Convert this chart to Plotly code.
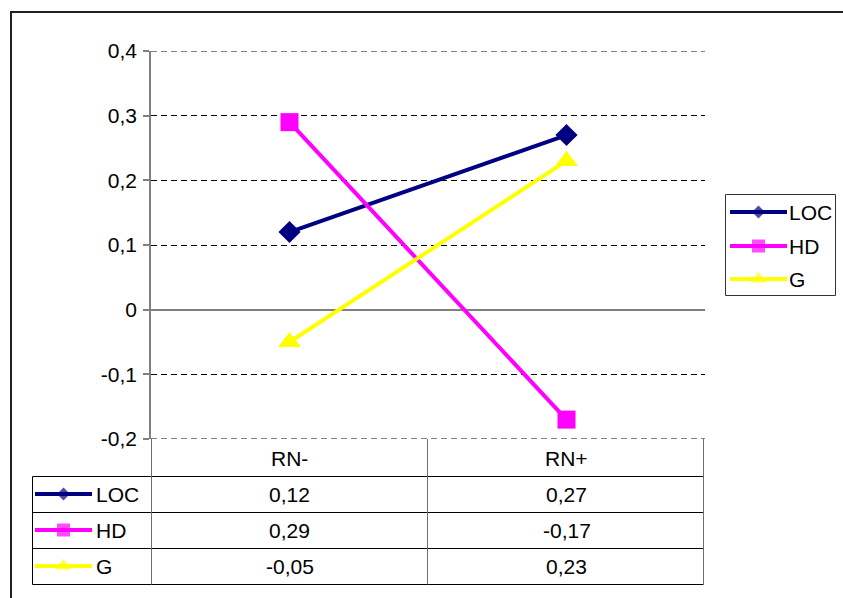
import plotly.graph_objects as go

# --- data -------------------------------------------------------------
categories = ["RN-", "RN+"]
series_names = ["LOC", "HD", "G"]
loc_values = [0.12, 0.27]
hd_values = [0.29, -0.17]
g_values = [-0.05, 0.23]
y_tick_values = [-0.2, -0.1, 0.0, 0.1, 0.2, 0.3, 0.4]
y_tick_labels = ["-0,2", "-0,1", "0", "0,1", "0,2", "0,3", "0,4"]

# --- styles -----------------------------------------------------------
W, H = 843, 598
FONT = "Liberation Sans, Arial, sans-serif"
FS = 21
styles = {
    "LOC": dict(color="#000080", symbol="diamond", size=17, key_size=10),
    "HD": dict(color="#FF00FF", symbol="square", size=18, key_size=13),
    "G": dict(color="#FFFF00", symbol="triangle-up", size=20, key_size=14),
}
values = {"LOC": loc_values, "HD": hd_values, "G": g_values}

# plot area in pixels
PX0, PX1 = 151, 705
PY_TOP, PY_BOT = 51, 439

fig = go.Figure()

# main series
for name in series_names:
    st = styles[name]
    fig.add_trace(go.Scatter(
        x=categories, y=values[name], mode="lines+markers", name=name,
        line=dict(color=st["color"], width=4),
        marker=dict(symbol=st["symbol"], size=st["size"], color=st["color"],
                    line=dict(width=0)),
        xaxis="x", yaxis="y", showlegend=False, hoverinfo="x+y+name",
        cliponaxis=False,
    ))

# pixel overlay used for the data table and the legend
table_left, key_col, col_mid, table_right = 32.5, 151.5, 427.5, 703.5
row_lines = [476.5, 512.5, 548.5, 584.5]
header_y = 458
row_centers = [494, 530, 566]

shapes = []
# outer frame
shapes.append(dict(type="rect", xref="x2", yref="y2", x0=11, y0=12, x1=W + 10, y1=H + 10,
                   line=dict(color="#202020", width=2)))
# dashed gridlines at the ends of the value range
for yv in (y_tick_values[0], y_tick_values[-1]):
    shapes.append(dict(type="line", xref="x", yref="y", x0=-0.5, x1=1.5, y0=yv, y1=yv,
                       line=dict(color="#000000", width=1, dash="6px,4px")))
# table horizontal lines
for yy in row_lines:
    shapes.append(dict(type="line", xref="x2", yref="y2", x0=table_left, x1=table_right,
                       y0=yy, y1=yy, line=dict(color="#000000", width=1)))
# table vertical lines
shapes.append(dict(type="line", xref="x2", yref="y2", x0=table_left, x1=table_left,
                   y0=row_lines[0], y1=row_lines[-1], line=dict(color="#000000", width=1)))
for xx in (key_col, col_mid, table_right):
    shapes.append(dict(type="line", xref="x2", yref="y2", x0=xx, x1=xx,
                       y0=PY_BOT, y1=row_lines[-1], line=dict(color="#6e6e6e", width=1)))
# legend box
shapes.append(dict(type="rect", xref="x2", yref="y2", x0=725.5, y0=194.5, x1=835.5, y1=295.5,
                   line=dict(color="#333333", width=1)))

annotations = []
# table header (category names)
for cat in categories:
    annotations.append(dict(x=cat, y=header_y, xref="x", yref="y2", text=cat,
                            showarrow=False, font=dict(family=FONT, size=FS, color="#000")))
# table values
for name, yc in zip(series_names, row_centers):
    for cat, v in zip(categories, values[name]):
        annotations.append(dict(x=cat, y=yc, xref="x", yref="y2",
                                text=f"{v:.2f}".replace(".", ","), showarrow=False,
                                font=dict(family=FONT, size=FS, color="#000")))


def add_key(name, x0, x1, yc, text_x):
    st = styles[name]
    xm = (x0 + x1) / 2
    fig.add_trace(go.Scatter(
        x=[x0, xm, x1], y=[yc, yc, yc], mode="lines+markers", xaxis="x2", yaxis="y2",
        line=dict(color=st["color"], width=4),
        marker=dict(symbol=st["symbol"], size=[0, st["key_size"], 0], color=st["color"],
                    line=dict(width=0)),
        showlegend=False, hoverinfo="skip",
    ))
    annotations.append(dict(x=text_x, y=yc, xref="x2", yref="y2", text=name, xanchor="left",
                            showarrow=False, font=dict(family=FONT, size=FS, color="#000")))


# keys inside the data table
for name, yc in zip(series_names, row_centers):
    add_key(name, 35, 92, yc, 94)
# legend at the right
for name, yc in zip(series_names, [212, 246, 279]):
    add_key(name, 730, 787, yc, 787)

fig.update_layout(
    template="none",
    width=W, height=H, autosize=False,
    margin=dict(l=0, r=0, t=0, b=0, pad=0),
    paper_bgcolor="white", plot_bgcolor="rgba(0,0,0,0)",
    showlegend=False,
    font=dict(family=FONT, size=FS, color="#000"),
    xaxis=dict(domain=[PX0 / W, PX1 / W], type="category", categoryorder="array",
               categoryarray=categories, range=[-0.5, 1.5], showgrid=False,
               showticklabels=False, zeroline=False, showline=False, ticks="",
               automargin=False),
    yaxis=dict(domain=[1 - PY_BOT / H, 1 - PY_TOP / H], range=[-0.2, 0.4],
               tickvals=y_tick_values, ticktext=y_tick_labels,
               showgrid=True, gridcolor="#000000", gridwidth=1, griddash="6px,4px",
               zeroline=True, zerolinecolor="#808080", zerolinewidth=1.5,
               showline=True, linecolor="#808080", linewidth=1.5,
               ticks="outside", ticklen=6, tickcolor="#808080", tickwidth=1.5,
               ticklabelstandoff=2,
               tickfont=dict(family=FONT, size=FS, color="#000"),
               automargin=False),
    xaxis2=dict(domain=[0, 1], range=[0, W], visible=False, fixedrange=True,
                automargin=False, anchor="y2"),
    yaxis2=dict(domain=[0, 1], range=[H, 0], visible=False, fixedrange=True,
                automargin=False, anchor="x2"),
    shapes=shapes,
    annotations=annotations,
)

fig.write_html("out.html")
